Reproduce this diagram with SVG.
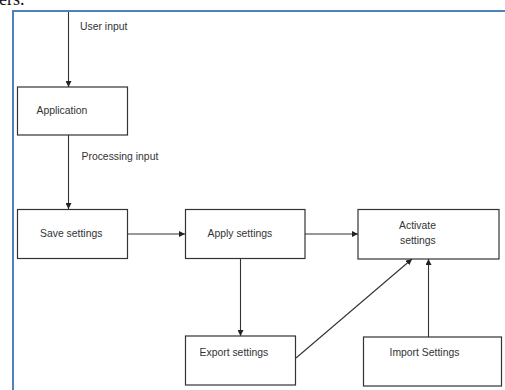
<svg xmlns="http://www.w3.org/2000/svg" width="505" height="390" viewBox="0 0 505 390">
  <style>
    .box { fill: #ffffff; stroke: #333333; stroke-width: 1.2; }
    .lbl { font-family: "Liberation Sans", Arial, sans-serif; font-size: 10.4px; fill: #333333; }
    .edge { fill: none; stroke: #333333; stroke-width: 1.1; marker-end: url(#arrow); }
    .frame { fill: none; stroke: #4f81bd; stroke-width: 2; }
  </style>
  <defs>
    <marker id="arrow" viewBox="0 0 10 10" refX="10" refY="5" markerWidth="6" markerHeight="6" markerUnits="userSpaceOnUse" orient="auto">
      <path d="M0,0 L10,5 L0,10 z" fill="#222222"/>
    </marker>
  </defs>

  <rect width="505" height="390" fill="#ffffff"/>

  <!-- trailing word of the preceding page text -->
  <text x="-1" y="5" font-family="'Liberation Serif', 'Times New Roman', serif" font-size="18" fill="#111111">ers.</text>

  <!-- page frame -->
  <path class="frame" d="M13,390 L13,11 L505,11"/>

  <g id="connectors">
    <line class="edge" x1="68.5" y1="12" x2="68.5" y2="87"/>
    <line class="edge" x1="68.5" y1="135" x2="68.5" y2="209"/>
    <line class="edge" x1="127" y1="234" x2="185" y2="234"/>
    <line class="edge" x1="305" y1="234" x2="358" y2="234"/>
    <line class="edge" x1="240.5" y1="258" x2="240.5" y2="336"/>
    <line class="edge" x1="296" y1="358" x2="412" y2="259"/>
    <line class="edge" x1="428.5" y1="337" x2="428.5" y2="259"/>
    <text class="lbl" x="80" y="30">User input</text>
    <text class="lbl" x="81.5" y="160">Processing input</text>
  </g>

  <g id="application">
    <rect class="box" x="17.5" y="87" width="110" height="48"/>
    <text class="lbl" x="36.5" y="114">Application</text>
  </g>

  <g id="save-settings">
    <rect class="box" x="17.5" y="209.5" width="110" height="49"/>
    <text class="lbl" x="40" y="237">Save settings</text>
  </g>

  <g id="apply-settings">
    <rect class="box" x="185.5" y="209.5" width="119.5" height="49"/>
    <text class="lbl" x="207.5" y="237">Apply settings</text>
  </g>

  <g id="activate-settings">
    <rect class="box" x="358" y="209.5" width="141" height="49.5"/>
    <text class="lbl" x="399" y="229">Activate</text>
    <text class="lbl" x="400" y="243.5">settings</text>
  </g>

  <g id="export-settings">
    <rect class="box" x="185.5" y="336" width="110" height="49"/>
    <text class="lbl" x="199.5" y="355.5">Export settings</text>
  </g>

  <g id="import-settings">
    <rect class="box" x="363.5" y="337" width="138" height="49"/>
    <text class="lbl" x="389.5" y="355.5">Import Settings</text>
  </g>
</svg>
